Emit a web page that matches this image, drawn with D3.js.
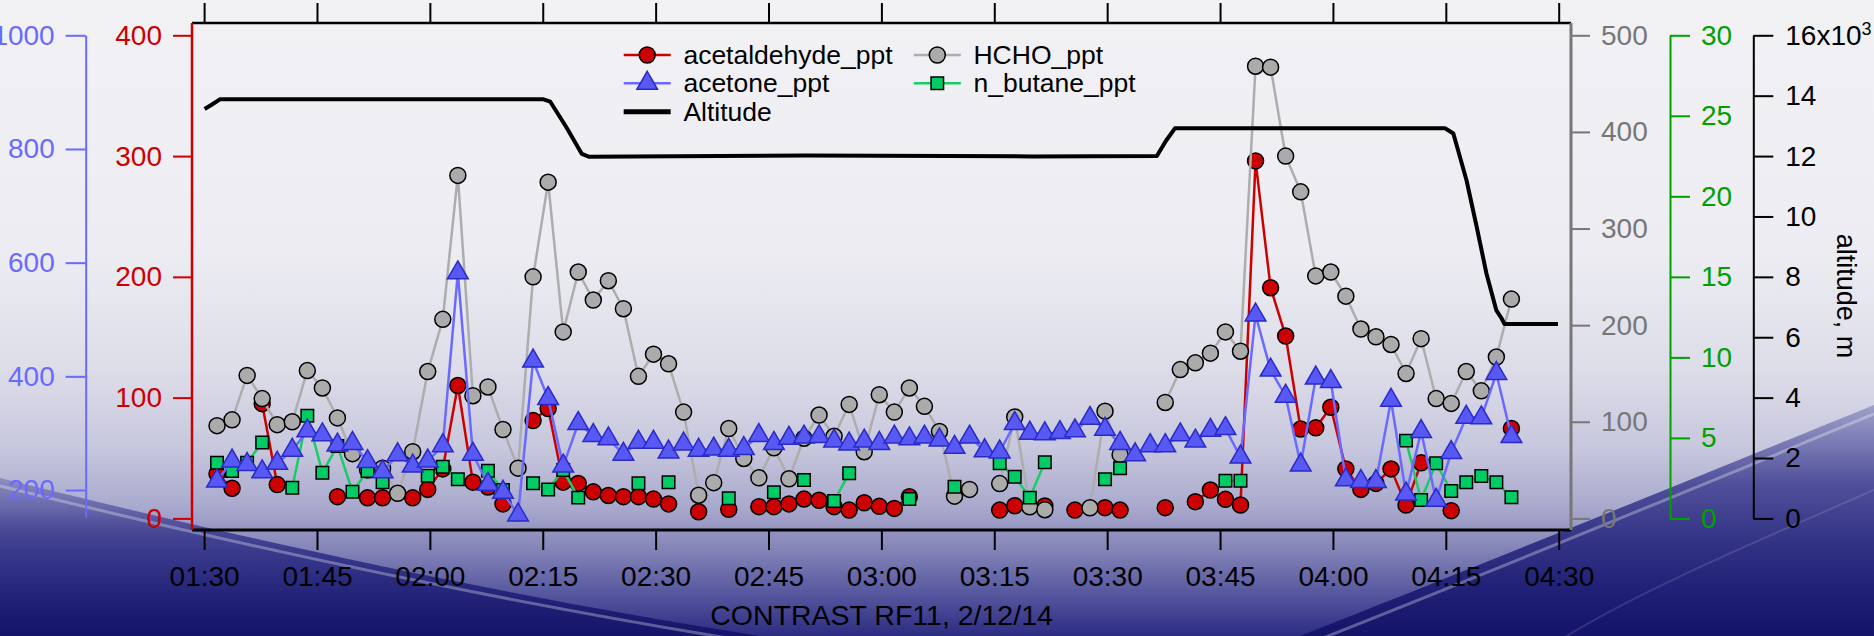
<!DOCTYPE html>
<html><head><meta charset="utf-8">
<script src="https://cdn.jsdelivr.net/npm/d3@7"></script>
<style>
html,body{margin:0;padding:0;overflow:hidden;background:#f2f2f5}
svg{display:block}
</style></head><body>
<svg id="chart" width="1874" height="636"></svg>
<script>
// ---------------- DATA ----------------
const sampleTimes = [
"01:31:43","01:33:43","01:35:43","01:37:43","01:39:43","01:41:43","01:43:43","01:45:43","01:47:43","01:49:43",
"01:51:43","01:53:43","01:55:43","01:57:43","01:59:43","02:01:43","02:03:43","02:05:43","02:07:43","02:09:43",
"02:11:43","02:13:43","02:15:43","02:17:43","02:19:43","02:21:43","02:23:43","02:25:43","02:27:43","02:29:43",
"02:31:43","02:33:43","02:35:43","02:37:43","02:39:43","02:41:43","02:43:43","02:45:43","02:47:43","02:49:43",
"02:51:43","02:53:43","02:55:43","02:57:43","02:59:43","03:01:43","03:03:43","03:05:43","03:07:43","03:09:43",
"03:11:43","03:13:43","03:15:43","03:17:43","03:19:43","03:21:43","03:23:43","03:25:43","03:27:43","03:29:43",
"03:31:43","03:33:43","03:35:43","03:37:43","03:39:43","03:41:43","03:43:43","03:45:43","03:47:43","03:49:43",
"03:51:43","03:53:43","03:55:43","03:57:43","03:59:43","04:01:43","04:03:43","04:05:43","04:07:43","04:09:43",
"04:11:43","04:13:43","04:15:43","04:17:43","04:19:43","04:21:43","04:23:43"];

const acetaldehyde = [
37,25,null,95,28,null,null,null,18,null,
17,17,null,17,24,41,110,30,26,12,
null,81,91,30,29,22,19,18,18,16,
12,null,5.5,null,7.5,null,9.7,9.7,12,16,
15,9.7,6.9,13,10,8.3,18,null,null,null,
null,null,6.9,10.5,null,10.3,null,6.9,null,8.9,
6.9,null,null,8.9,null,13.8,23.5,15.8,11.1,296,
191,151,74,75,92,41,24,29,41,11,
46,null,6.4,null,null,null,74.5];

const acetone = [
216,251,245,232,247,270,304,297,279,282,
250,232,262,242,251,278,582,263,210,196,
156,427,361,242,317,296,290,263,284,284,
267,281,270,272,270,273,296,282,291,293,
294,286,281,286,282,293,290,293,288,275,
293,269,267,317,300,299,301,304,326,307,
282,262,278,278,297,286,305,308,258,508,
411,365,244,397,391,218,215,215,358,193,
303,182,266,328,327,405,294];

const hcho = [
96,102,148,124,97,100,153,135,104,67,
50,52,26,69,152,206,355,127,136,92,
52,250,348,193,255,226,246,217,147,170,
160,110,24,37,93,62,42,73,41,83,
107,85,118,69,128,110,135,116,90,23,
30,null,36,105,12,9,null,null,11,111,
66,null,null,120,154,161,171,193,173,468,
467,375,338,251,255,230,196,188,180,150,
186,124,119,152,132,167,227];

const nButane = [
3.46,2.94,3.46,4.72,null,1.91,6.38,2.84,4.5,1.66,
2.94,2.24,null,null,2.65,3.2,2.43,null,2.96,1.76,
null,2.18,1.8,3.0,1.29,null,null,null,2.18,null,
2.24,null,null,null,1.25,null,null,1.62,null,2.38,
null,1.08,2.8,null,null,null,1.2,null,null,1.97,
null,null,3.42,2.59,1.29,3.48,null,null,null,2.43,
3.11,null,null,null,null,null,null,2.34,2.34,null,
null,null,null,null,null,null,null,null,null,4.83,
1.14,3.42,1.7,2.24,2.63,2.24,1.31];

const altTimes = ["01:30:04","01:31:00","01:32:06","02:15:06","02:16:00","02:18:06","02:20:12","02:21:06",
"02:50:00","03:20:00","03:36:36","03:37:48","03:39:00","04:14:54","04:16:00","04:17:45","04:19:06",
"04:20:24","04:21:42","04:22:24","04:22:48","04:29:54"];
const altitude = [13560,13700,13880,13880,13800,12970,12070,11980,
12020,11990,12000,12500,12920,12920,12750,11200,9660,
8110,6900,6630,6440,6440];

const xTickLabels = ["01:30","01:45","02:00","02:15","02:30","02:45","03:00","03:15","03:30","03:45","04:00","04:15","04:30"];
const redTicks = [0,100,200,300,400];
const blueTicks = [200,400,600,800,1000];
const grayTicks = [0,100,200,300,400,500];
const greenTicks = [0,5,10,15,20,25,30];
const altTicks = [0,2000,4000,6000,8000,10000,12000,14000,16000];

const seriesNames = ["acetaldehyde_ppt","acetone_ppt","Altitude","HCHO_ppt","n_butane_ppt"];
const xTitle = "CONTRAST RF11, 2/12/14";
const altTitle = "altitude, m";

// ---------------- SETUP ----------------
const FONT = "'Liberation Sans', Arial, Helvetica, sans-serif";
const svg = d3.select("#chart");
const L=192, R=1571, T=23, B=530;
const parseT = s => d3.utcParse("%H:%M:%S")(s.length===5 ? s+":00" : s);

const x = d3.scaleUtc().domain([parseT("01:30"), parseT("04:30")]).range([204.1, 1558.7]);
const yRed = d3.scaleLinear().domain([0,400]).range([518.4, 35.3]);
const yBlue = d3.scaleLinear().domain([152,1000]).range([517.3, 35.3]);
const yGray = d3.scaleLinear().domain([0,500]).range([518.4, 35.3]);
const yGreen = d3.scaleLinear().domain([0,30]).range([518.4, 35.3]);
const yAlt = d3.scaleLinear().domain([0,16000]).range([518.4, 35.3]);

// ---------------- BACKGROUND ----------------
const defs = svg.append("defs");
const bg = defs.append("linearGradient").attr("id","bg").attr("x1",0).attr("y1",0).attr("x2",0).attr("y2",1);
[[0,"#f2f2f5"],[0.40,"#ececf2"],[0.58,"#dddde9"],[0.70,"#c8c8de"],[0.80,"#a8a8cd"],[0.87,"#8080b6"],[0.94,"#52529c"],[1,"#2c2c82"]]
  .forEach(([o,c])=>bg.append("stop").attr("offset",o).attr("stop-color",c));
const dk = defs.append("linearGradient").attr("id","dk").attr("x1",0).attr("y1",0).attr("x2",0).attr("y2",1);
[[0,"#40409a",0.35],[0.35,"#2c2c86",0.75],[1,"#14146a",1]]
  .forEach(([o,c,op])=>dk.append("stop").attr("offset",o).attr("stop-color",c).attr("stop-opacity",op));

svg.append("rect").attr("width",1874).attr("height",636).attr("fill","url(#bg)");
svg.append("path").attr("d","M0,478 C 230,535 480,592 760,636 L0,636 Z").attr("fill","url(#dk)");
svg.append("path").attr("d","M1874,405 C 1690,480 1480,565 1300,636 L1874,636 Z").attr("fill","url(#dk)");
svg.append("path").attr("d","M0,486 C 230,543 480,598 740,640").attr("fill","none").attr("stroke","#ffffff").attr("stroke-opacity",0.3).attr("stroke-width",3);
svg.append("path").attr("d","M1874,414 C 1690,490 1490,572 1318,640").attr("fill","none").attr("stroke","#ffffff").attr("stroke-opacity",0.3).attr("stroke-width",3);
svg.append("path").attr("d","M1874,490 C 1760,540 1640,590 1560,640").attr("fill","none").attr("stroke","#ffffff").attr("stroke-opacity",0.12).attr("stroke-width",2);

// ---------------- AXES ----------------
function styleAxis(g, color, fs, w){
  g.attr("font-family", FONT).attr("font-size", fs);
  g.selectAll("line").attr("stroke", color).attr("stroke-width", w||2);
  g.selectAll("path.domain").attr("stroke", color).attr("stroke-width", w||2);
  g.selectAll("text").attr("fill", color);
}

const xTickDates = xTickLabels.map(parseT);
const gx = svg.append("g").attr("transform",`translate(0,${B})`)
  .call(d3.axisBottom(x).tickValues(xTickDates).tickFormat(d3.utcFormat("%H:%M")).tickSize(20).tickPadding(16).tickSizeOuter(0));
gx.select("path.domain").remove();
styleAxis(gx, "#000", 28, 2);

const gxt = svg.append("g").attr("transform",`translate(0,${T})`)
  .call(d3.axisTop(x).tickValues(xTickDates).tickFormat("").tickSize(20).tickSizeOuter(0));
gxt.select("path.domain").remove();
styleAxis(gxt, "#000", 28, 2);

const gRed = svg.append("g").attr("transform",`translate(${L},0)`)
  .call(d3.axisLeft(yRed).tickValues(redTicks).tickFormat(d3.format("d")).tickSize(19).tickPadding(11).tickSizeOuter(0));
gRed.select("path.domain").remove();
styleAxis(gRed, "#cc0000", 28, 2);

const gBlue = svg.append("g").attr("transform",`translate(85.7,0)`)
  .call(d3.axisLeft(yBlue).tickValues(blueTicks).tickFormat(d3.format("d")).tickSize(20).tickPadding(11).tickSizeOuter(0));
styleAxis(gBlue, "#6a6aff", 28, 2);

const gGray = svg.append("g").attr("transform",`translate(${R},0)`)
  .call(d3.axisRight(yGray).tickValues(grayTicks).tickFormat(d3.format("d")).tickSize(19).tickPadding(11).tickSizeOuter(0));
gGray.select("path.domain").remove();
styleAxis(gGray, "#777777", 28, 2);

const gGreen = svg.append("g").attr("transform",`translate(1670,0)`)
  .call(d3.axisRight(yGreen).tickValues(greenTicks).tickFormat(d3.format("d")).tickSize(20).tickPadding(11).tickSizeOuter(0));
styleAxis(gGreen, "#00a000", 28, 2);

const gAlt = svg.append("g").attr("transform",`translate(1753.3,0)`)
  .call(d3.axisRight(yAlt).tickValues(altTicks).tickSize(20).tickPadding(12).tickSizeOuter(0)
    .tickFormat(d => d === 16000 ? "16x10" : String(d/1000)));
styleAxis(gAlt, "#000", 28, 2);
gAlt.selectAll(".tick text").filter(d => d === 16000)
  .append("tspan").attr("dy","-0.55em").attr("font-size",18).text("3");

// plot frame
svg.append("line").attr("x1",L).attr("x2",R).attr("y1",T).attr("y2",T).attr("stroke","#000").attr("stroke-width",2.5);
svg.append("line").attr("x1",L).attr("x2",R).attr("y1",B).attr("y2",B).attr("stroke","#000").attr("stroke-width",3);
svg.append("line").attr("x1",L).attr("x2",L).attr("y1",T).attr("y2",B).attr("stroke","#cc0000").attr("stroke-width",2.5);
svg.append("line").attr("x1",R).attr("x2",R).attr("y1",T).attr("y2",B).attr("stroke","#777777").attr("stroke-width",3);

// titles
svg.append("text").attr("x",(L+R)/2).attr("y",625).attr("text-anchor","middle")
  .attr("font-family",FONT).attr("font-size",28.5).attr("fill","#000").text(xTitle);
svg.append("text").attr("transform","translate(1846,296) rotate(90)").attr("text-anchor","middle")
  .attr("dy","0.35em").attr("font-family",FONT).attr("font-size",27).attr("fill","#000").text(altTitle);

// ---------------- SERIES ----------------
const sampleDates = sampleTimes.map(parseT);
const plot = svg.append("g");

const styles = {
  red:   {line:"#cc0000", fill:"#cc0000", stroke:"#000", sym:"circle"},
  gray:  {line:"#adadad", fill:"#ababab", stroke:"#000", sym:"circle"},
  green: {line:"#18cc66", fill:"#00cc66", stroke:"#000", sym:"square"},
  blue:  {line:"#6a6aff", fill:"#5858f4", stroke:"#2a2ac8", sym:"triangle"}
};

function marker(sel, st){
  if (st.sym === "circle") {
    sel.append("circle").attr("r",8).attr("fill",st.fill).attr("stroke",st.stroke).attr("stroke-width",1.5);
  } else if (st.sym === "square") {
    sel.append("path").attr("d", d3.symbol(d3.symbolSquare, 156)()).attr("fill",st.fill).attr("stroke",st.stroke).attr("stroke-width",1.5);
  } else {
    sel.append("path").attr("d", d3.symbol(d3.symbolTriangle, 185)()).attr("fill",st.fill).attr("stroke",st.stroke).attr("stroke-width",1.5);
  }
}

function drawSeries(values, y, st){
  const pts = sampleDates.map((d,i)=>({d, v: values[i]}));
  const g = plot.append("g");
  g.append("path").datum(pts)
    .attr("d", d3.line().defined(p=>p.v!=null).x(p=>x(p.d)).y(p=>y(p.v)))
    .attr("fill","none").attr("stroke",st.line).attr("stroke-width",2.5).attr("stroke-linejoin","round");
  g.selectAll("g.m").data(pts.filter(p=>p.v!=null)).join("g").attr("class","m")
    .attr("transform", p=>`translate(${x(p.d)},${y(p.v)})`)
    .each(function(){ marker(d3.select(this), st); });
}

drawSeries(acetaldehyde, yRed, styles.red);
drawSeries(hcho, yGray, styles.gray);
drawSeries(nButane, yGreen, styles.green);
drawSeries(acetone, yBlue, styles.blue);

// altitude
const altPts = altTimes.map((t,i)=>({d: parseT(t), v: altitude[i]}));
plot.append("path").datum(altPts)
  .attr("d", d3.line().x(p=>x(p.d)).y(p=>yAlt(p.v)))
  .attr("fill","none").attr("stroke","#000").attr("stroke-width",4).attr("stroke-linejoin","round");

// ---------------- LEGEND ----------------
const legendItems = [
  {name: seriesNames[0], st: styles.red,   col:0, row:0},
  {name: seriesNames[1], st: styles.blue,  col:0, row:1},
  {name: seriesNames[2], st: null,         col:0, row:2},
  {name: seriesNames[3], st: styles.gray,  col:1, row:0},
  {name: seriesNames[4], st: styles.green, col:1, row:1}
];
const colX = [623.7, 913.8], rowY = [55, 83.3, 111.7];
const lg = svg.append("g");
legendItems.forEach(it=>{
  const gx0 = colX[it.col], gy = rowY[it.row];
  const g = lg.append("g").attr("transform",`translate(${gx0},${gy})`);
  if (it.st) {
    g.append("line").attr("x1",0).attr("x2",47).attr("stroke",it.st.line).attr("stroke-width",2.5);
    const m = g.append("g").attr("transform","translate(23.5,0)");
    marker(m, it.st);
  } else {
    g.append("line").attr("x1",0).attr("x2",47).attr("stroke","#000").attr("stroke-width",5);
  }
  g.append("text").attr("x",59.7).attr("y",9).attr("font-family",FONT).attr("font-size",26.5).attr("fill","#000").text(it.name);
});
</script>
</body></html>
